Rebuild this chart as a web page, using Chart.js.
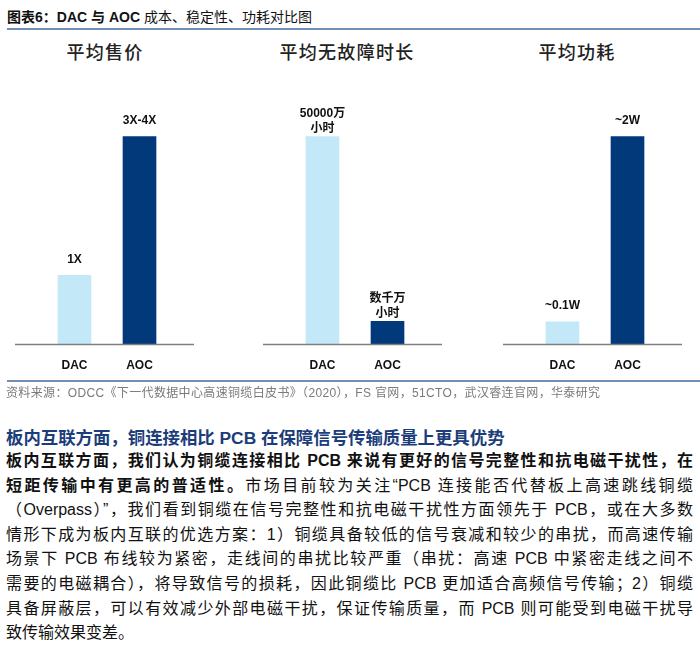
<!DOCTYPE html>
<html>
<head>
<meta charset="utf-8">
<script src="https://cdn.jsdelivr.net/npm/chart.js@4.4.1/dist/chart.umd.min.js"></script>
<style>
    body { margin: 0; background: #fff; width: 700px; height: 649px; position: relative; overflow: hidden;
        font-family: "Liberation Sans", "Noto Sans CJK SC", sans-serif; }
    .abs { position: absolute; }
    #header { left: 7px; top: 6px; font-size: 14px; color: #111; white-space: nowrap; }
    #header b { font-weight: bold; }
    .rule { left: 7px; right: 0; height: 2px; background: #6f8fb8; }
    .ptitle { top: 38px; width: 200px; margin-left: -100px; text-align: center; font-size: 18px;
        letter-spacing: 1.3px; color: #222; font-weight: 500; font-family: "Noto Sans CJK SC", sans-serif; }
    #source { left: 6px; top: 383px; font-size: 12px; letter-spacing: 0.35px; color: #7a7a7a; white-space: nowrap; }
    #heading { left: 6px; top: 424px; font-size: 17.4px; font-weight: bold; color: #1b3d7a; white-space: nowrap; }
    #para { left: 6px; top: 449px; width: 687px; font-size: 16px; color: #111; }
    #para div { height: 24.6px; line-height: 24.6px; text-align: justify; text-align-last: justify; white-space: nowrap; }
    #para div.last { text-align-last: left; }
</style>
</head>
<body>
<div id="header" class="abs"><b>图表6：</b><b>DAC 与 AOC</b> 成本、稳定性、功耗对比图</div>
<div class="abs rule" style="top:28px"></div>

<div class="abs ptitle" style="left:105px">平均售价</div>
<div class="abs ptitle" style="left:347px">平均无故障时长</div>
<div class="abs ptitle" style="left:577px">平均功耗</div>

<canvas id="c1" class="abs" width="179" height="292" style="left:15px;top:95px"></canvas>
<canvas id="c2" class="abs" width="179" height="292" style="left:263px;top:95px"></canvas>
<canvas id="c3" class="abs" width="179" height="292" style="left:503px;top:95px"></canvas>

<div class="abs rule" style="top:380px"></div>
<div id="source" class="abs">资料来源：ODCC《下一代数据中心高速铜缆白皮书》（2020），FS 官网，51CTO，武汉睿连官网，华泰研究</div>

<div id="heading" class="abs">板内互联方面，铜连接相比 PCB 在保障信号传输质量上更具优势</div>
<div id="para" class="abs">
    <div><b>板内互联方面，我们认为铜缆连接相比 PCB 来说有更好的信号完整性和抗电磁干扰性，在</b></div>
    <div><b>短距传输中有更高的普适性。</b>市场目前较为关注“PCB 连接能否代替板上高速跳线铜缆</div>
    <div>（Overpass）”，我们看到铜缆在信号完整性和抗电磁干扰性方面领先于 PCB，或在大多数</div>
    <div>情形下成为板内互联的优选方案：1）铜缆具备较低的信号衰减和较少的串扰，而高速传输</div>
    <div>场景下 PCB 布线较为紧密，走线间的串扰比较严重（串扰：高速 PCB 中紧密走线之间不</div>
    <div>需要的电磁耦合），将导致信号的损耗，因此铜缆比 PCB 更加适合高频信号传输；2）铜缆</div>
    <div>具备屏蔽层，可以有效减少外部电磁干扰，保证传输质量，而 PCB 则可能受到电磁干扰导</div>
    <div class="last">致传输效果变差。</div>
</div>

<script>
// categories and values
const categories = ['DAC', 'AOC'];

const priceValues = [1, 3];
const priceLabels = [['1X'], ['3X-4X']];

const mtbfValues = [50000, 5600];
const mtbfLabels = [['50000万', '小时'], ['数千万', '小时']];

const powerValues = [0.22, 2];
const powerLabels = [['~0.1W'], ['~2W']];

const barColors = ['#c3e8f8', '#01397a'];

// draws the value text above each bar
const valueLabelPlugin = {
    id: 'valueLabels',
    afterDatasetsDraw(chart, args, opts) {
        const ctx = chart.ctx;
        const meta = chart.getDatasetMeta(0);
        ctx.save();
        ctx.fillStyle = '#111';
        ctx.textAlign = 'center';
        ctx.textBaseline = 'bottom';
        meta.data.forEach((bar, i) => {
            const lines = opts.labels[i];
            const gap = lines.length > 1 ? 2 : 10;
            lines.forEach((line, j) => {
                ctx.font = 'bold 12px "Liberation Sans", "Noto Sans CJK SC"';
                const y = bar.y - gap - (lines.length - 1 - j) * 15;
                ctx.fillText(line, bar.x, y);
            });
        });
        ctx.restore();
    }
};

// grey baseline across the whole panel
const baselinePlugin = {
    id: 'baseline',
    afterDatasetsDraw(chart) {
        const ctx = chart.ctx;
        const y = chart.chartArea.bottom;
        ctx.save();
        ctx.strokeStyle = '#7f7f7f';
        ctx.lineWidth = 1.5;
        ctx.beginPath();
        ctx.moveTo(0, y);
        ctx.lineTo(chart.width, y);
        ctx.stroke();
        ctx.restore();
    }
};

function makePanel(id, values, labels, yMax) {
    const ctx = document.getElementById(id).getContext('2d');
    return new Chart(ctx, {
        type: 'bar',
        data: {
            labels: categories,
            datasets: [{
                data: values,
                backgroundColor: barColors,
                borderWidth: 0,
                barThickness: 33
            }]
        },
        options: {
            responsive: false,
            animation: false,
            layout: { padding: { left: 27, right: 22, top: 0, bottom: 0 } },
            plugins: {
                legend: { display: false },
                tooltip: { enabled: false },
                valueLabels: { labels: labels }
            },
            scales: {
                x: {
                    grid: { display: false, drawTicks: false },
                    border: { display: false },
                    ticks: {
                        padding: 14,
                        color: '#111',
                        font: { family: '"Liberation Sans"', size: 12, weight: 'bold' }
                    }
                },
                y: {
                    display: false,
                    min: 0,
                    max: yMax
                }
            }
        },
        plugins: [valueLabelPlugin, baselinePlugin]
    });
}

makePanel('c1', priceValues, priceLabels, 3.6);
makePanel('c2', mtbfValues, mtbfLabels, 60000);
makePanel('c3', powerValues, powerLabels, 2.4);
</script>
</body>
</html>
